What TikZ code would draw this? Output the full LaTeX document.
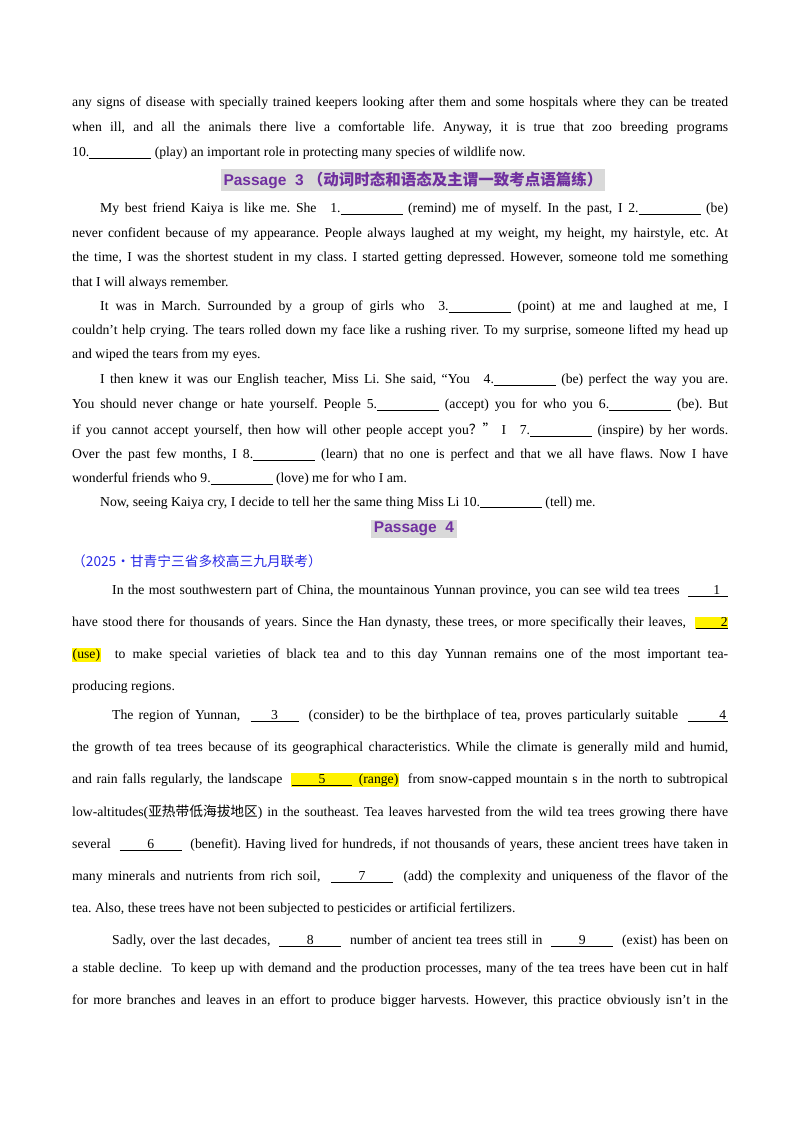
\documentclass[tikz,border=0pt]{standalone}
\usepackage{fontspec}
\setmainfont{Liberation Serif}
\newfontfamily\cjk{Noto Sans CJK SC}
\newfontfamily\headfont{Liberation Sans}
\definecolor{headpurple}{RGB}{112,48,160}
\definecolor{headgray}{RGB}{217,217,217}
\definecolor{srcblue}{RGB}{40,40,230}
\newcommand{\gap}[1]{#1\underline{\makebox[62pt]{}}}
\newcommand{\nblank}[2][48pt]{\underline{\makebox[#1]{#2}}}
\newcommand{\hl}[1]{\colorbox{yellow}{#1}}
\frenchspacing
\begin{document}
\begin{tikzpicture}[x=1pt,y=-1pt,
    line/.style={anchor=west, inner sep=0pt, font=\fontsize{13.7}{16}\selectfont},
    jline/.style={line, text width=656pt, align=justify,
      execute at begin node={\frenchspacing\parfillskip=0pt\setlength{\fboxsep}{0.5pt}}},
    head/.style={fill=headgray, inner sep=2.5pt, text=headpurple, font=\headfont\bfseries\fontsize{15.5}{18}\selectfont}]
\useasboundingbox (0,0) rectangle (800,1132);
% Passage 2 end
\node[jline] (l1) at (72,103) {any signs of disease with specially trained keepers looking after them and some hospitals where they can be treated};
\node[jline] (l2) at (72,128) {when ill, and all the animals there live a comfortable life. Anyway, it is true that zoo breeding programs};
\node[line] (l3) at (72,153) {10.\underline{\makebox[62pt]{}} (play) an important role in protecting many species of wildlife now.};
% Passage 3
\node[head] (h3) at (413,180) {Passage\ \ 3\ {\cjk（动词时态和语态及主谓一致考点语篇练）}};
\node[jline] (p1) at (72,209) {\hspace*{28pt}My best friend Kaiya is like me. She\quad \gap{1.} (remind) me of myself. In the past, I \gap{2.} (be)};
\node[jline] (p2) at (72,234) {never confident because of my appearance. People always laughed at my weight, my height, my hairstyle, etc. At};
\node[jline] (p3) at (72,258) {the time, I was the shortest student in my class. I started getting depressed. However, someone told me something};
\node[line] (p4) at (72,283) {that I will always remember.};
\node[jline] (p5) at (72,307) {\hspace*{28pt}It was in March. Surrounded by a group of girls who\quad \gap{3.} (point) at me and laughed at me, I};
\node[jline] (p6) at (72,331) {couldn't help crying. The tears rolled down my face like a rushing river. To my surprise, someone lifted my head up};
\node[line] (p7) at (72,355) {and wiped the tears from my eyes.};
\node[jline] (p8) at (72,380) {\hspace*{28pt}I then knew it was our English teacher, Miss Li. She said, “You\quad \gap{4.} (be) perfect the way you are.};
\node[jline] (p9) at (72,405) {You should never change or hate yourself. People \gap{5.} (accept) you for who you \gap{6.} (be). But};
\node[jline] (p10) at (72,430) {if you cannot accept yourself, then how will other people accept you{\cjk？”} I\quad \gap{7.} (inspire) by her words.};
\node[jline] (p11) at (72,455) {Over the past few months, I \gap{8.} (learn) that no one is perfect and that we all have flaws. Now I have};
\node[line] (p12) at (72,479) {wonderful friends who \gap{9.} (love) me for who I am.};
\node[line] (p13) at (72,503) {\hspace*{28pt}Now, seeing Kaiya cry, I decide to tell her the same thing Miss Li \gap{10.} (tell) me.};
% Passage 4
\node[head] (h4) at (414,529) {Passage\ \ 4};
\node[line, text=srcblue] (src) at (72,561) {\cjk（2025·甘青宁三省多校高三九月联考）};
\node[jline] (q1) at (72,591) {\hspace*{40pt}In the most southwestern part of China, the mountainous Yunnan province, you can see wild tea trees\ \ \nblank[40pt]{\hfill1\hspace{8pt}}};
\node[jline] (q2) at (72,623) {have stood there for thousands of years. Since the Han dynasty, these trees, or more specifically their leaves,\ \ \hl{\nblank[32pt]{\hfill2}}};
\node[jline] (q3) at (72,655) {\hl{(use)}\ \ to make special varieties of black tea and to this day Yunnan remains one of the most important tea-};
\node[line] (q4) at (72,687) {producing regions.};
\node[jline] (q5) at (72,716) {\hspace*{40pt}The region of Yunnan,\ \ \nblank{3}\ \ (consider) to be the birthplace of tea, proves particularly suitable\ \ \nblank[40pt]{\hfill4\hspace{2pt}}};
\node[jline] (q6) at (72,748) {the growth of tea trees because of its geographical characteristics. While the climate is generally mild and humid,};
\node[jline] (q7) at (72,780) {and rain falls regularly, the landscape\ \ \hl{\nblank[60pt]{5}\ \ (range)}\ \ from snow-capped mountain s in the north to subtropical};
\node[jline] (q8) at (72,812) {low-altitudes({\cjk 亚热带低海拔地区}) in the southeast. Tea leaves harvested from the wild tea trees growing there have};
\node[jline] (q9) at (72,845) {several\ \ \nblank[62pt]{6}\ \ (benefit). Having lived for hundreds, if not thousands of years, these ancient trees have taken in};
\node[jline] (q10) at (72,877) {many minerals and nutrients from rich soil,\ \ \nblank[62pt]{7}\ \ (add) the complexity and uniqueness of the flavor of the};
\node[line] (q11) at (72,909) {tea. Also, these trees have not been subjected to pesticides or artificial fertilizers.};
\node[jline] (q12) at (72,941) {\hspace*{40pt}Sadly, over the last decades,\ \ \nblank[62pt]{8}\ \ number of ancient tea trees still in\ \ \nblank[62pt]{9}\ \ (exist) has been on};
\node[jline] (q13) at (72,969) {a stable decline.\ \ To keep up with demand and the production processes, many of the tea trees have been cut in half};
\node[jline] (q14) at (72,1001) {for more branches and leaves in an effort to produce bigger harvests. However, this practice obviously isn’t in the};
\end{tikzpicture}
\end{document}
